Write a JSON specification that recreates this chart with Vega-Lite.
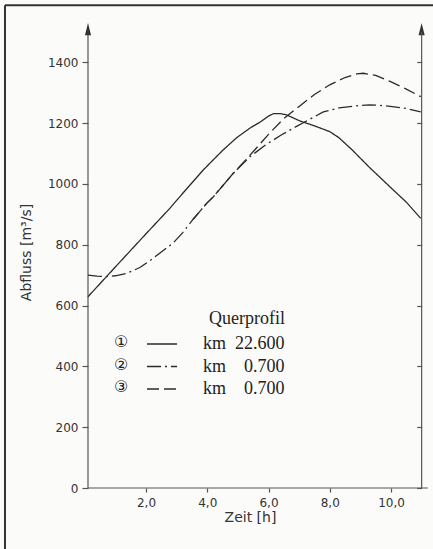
{
  "$schema": "https://vega.github.io/schema/vega-lite/v6.json",
  "width": 433,
  "height": 549,
  "autosize": {"type": "none"},
  "padding": 0,
  "background": "#fbfbfa",
  "config": {
    "view": {"stroke": null},
    "axis": {"grid": false, "labelFont": "DejaVu Sans", "titleFont": "DejaVu Sans", "labelColor": "#333", "titleColor": "#333", "tickColor": "#555", "tickWidth": 1.2, "titleFontWeight": "normal"},
    "legend": {"labelLimit": 0, "padding": 0, "offset": 0}
  },
  "resolve": {"axis": {"x": "independent", "y": "independent"}},
  "layer": [
    {
      "data": {"values": [{}]},
      "mark": {"type": "rule", "color": "#333", "strokeWidth": 2},
      "encoding": {
        "x": {"datum": -2.604, "type": "quantitative", "axis": null},
        "y": {"datum": -200.6, "type": "quantitative", "axis": null},
        "y2": {"datum": 1588}
      }
    },
    {
      "data": {"values": [{}]},
      "mark": {"type": "rule", "color": "#333", "strokeWidth": 2},
      "encoding": {
        "x": {"datum": -2.604, "type": "quantitative", "axis": null},
        "x2": {"datum": 11.371},
        "y": {"datum": 1588, "type": "quantitative", "axis": null}
      }
    },
    {
      "data": {"values": [{}]},
      "mark": {"type": "rule", "color": "#555", "strokeWidth": 1.2},
      "encoding": {
        "x": {"datum": 0.106, "type": "quantitative", "axis": null},
        "y": {"datum": 0, "type": "quantitative", "axis": null},
        "y2": {"datum": 1500}
      }
    },
    {
      "data": {"values": [{}]},
      "mark": {"type": "rule", "color": "#555", "strokeWidth": 1.2},
      "encoding": {
        "x": {"datum": 0.106, "type": "quantitative", "axis": null},
        "x2": {"datum": 11.2},
        "y": {"datum": 0, "type": "quantitative", "axis": null}
      }
    },
    {
      "data": {"values": [{}]},
      "mark": {"type": "point", "filled": true, "color": "#333", "opacity": 1, "size": 150, "shape": "M0,-1L0.5,1L-0.5,1Z"},
      "encoding": {
        "x": {"datum": 0.106, "type": "quantitative", "axis": null},
        "y": {"datum": 1509, "type": "quantitative", "axis": null}
      }
    },
    {
      "data": {"values": [{}]},
      "mark": {"type": "point", "filled": true, "color": "#333", "opacity": 1, "size": 150, "shape": "M0,-1L0.5,1L-0.5,1Z"},
      "encoding": {
        "x": {"datum": 11.0, "type": "quantitative", "axis": null},
        "y": {"datum": 1509, "type": "quantitative", "axis": null}
      }
    },
    {
      "data": {
        "values": [
          {"serie": "1", "nr": "①", "t": 0.106, "q": 629},
          {"serie": "1", "nr": "①", "t": 1.0, "q": 727},
          {"serie": "1", "nr": "①", "t": 2.0, "q": 836},
          {"serie": "1", "nr": "①", "t": 2.79, "q": 921},
          {"serie": "1", "nr": "①", "t": 3.0, "q": 946},
          {"serie": "1", "nr": "①", "t": 3.87, "q": 1046},
          {"serie": "1", "nr": "①", "t": 4.5, "q": 1110},
          {"serie": "1", "nr": "①", "t": 4.96, "q": 1152},
          {"serie": "1", "nr": "①", "t": 5.4, "q": 1184},
          {"serie": "1", "nr": "①", "t": 5.72, "q": 1203},
          {"serie": "1", "nr": "①", "t": 6.0, "q": 1223},
          {"serie": "1", "nr": "①", "t": 6.16, "q": 1231},
          {"serie": "1", "nr": "①", "t": 6.4, "q": 1231},
          {"serie": "1", "nr": "①", "t": 6.59, "q": 1227},
          {"serie": "1", "nr": "①", "t": 7.03, "q": 1207},
          {"serie": "1", "nr": "①", "t": 7.5, "q": 1191},
          {"serie": "1", "nr": "①", "t": 8.0, "q": 1172},
          {"serie": "1", "nr": "①", "t": 8.3, "q": 1152},
          {"serie": "1", "nr": "①", "t": 8.72, "q": 1113},
          {"serie": "1", "nr": "①", "t": 9.3, "q": 1054},
          {"serie": "1", "nr": "①", "t": 9.97, "q": 990},
          {"serie": "1", "nr": "①", "t": 10.5, "q": 940},
          {"serie": "1", "nr": "①", "t": 10.97, "q": 887},
          {"serie": "2", "nr": "②", "t": 0.106, "q": 700},
          {"serie": "2", "nr": "②", "t": 0.4, "q": 697},
          {"serie": "2", "nr": "②", "t": 0.66, "q": 695},
          {"serie": "2", "nr": "②", "t": 1.0, "q": 698},
          {"serie": "2", "nr": "②", "t": 1.37, "q": 706},
          {"serie": "2", "nr": "②", "t": 1.8, "q": 725},
          {"serie": "2", "nr": "②", "t": 2.13, "q": 748},
          {"serie": "2", "nr": "②", "t": 2.5, "q": 776},
          {"serie": "2", "nr": "②", "t": 2.89, "q": 806},
          {"serie": "2", "nr": "②", "t": 3.2, "q": 840},
          {"serie": "2", "nr": "②", "t": 3.54, "q": 884},
          {"serie": "2", "nr": "②", "t": 3.98, "q": 936},
          {"serie": "2", "nr": "②", "t": 4.2, "q": 958},
          {"serie": "2", "nr": "②", "t": 4.85, "q": 1035},
          {"serie": "2", "nr": "②", "t": 5.4, "q": 1090},
          {"serie": "2", "nr": "②", "t": 5.9, "q": 1128},
          {"serie": "2", "nr": "②", "t": 6.4, "q": 1160},
          {"serie": "2", "nr": "②", "t": 6.8, "q": 1183},
          {"serie": "2", "nr": "②", "t": 7.3, "q": 1210},
          {"serie": "2", "nr": "②", "t": 7.79, "q": 1237},
          {"serie": "2", "nr": "②", "t": 8.3, "q": 1250},
          {"serie": "2", "nr": "②", "t": 8.88, "q": 1257},
          {"serie": "2", "nr": "②", "t": 9.3, "q": 1260},
          {"serie": "2", "nr": "②", "t": 9.6, "q": 1259},
          {"serie": "2", "nr": "②", "t": 9.97, "q": 1255},
          {"serie": "2", "nr": "②", "t": 10.5, "q": 1248},
          {"serie": "2", "nr": "②", "t": 10.97, "q": 1237},
          {"serie": "3", "nr": "③", "t": 3.54, "q": 884},
          {"serie": "3", "nr": "③", "t": 3.98, "q": 936},
          {"serie": "3", "nr": "③", "t": 4.2, "q": 958},
          {"serie": "3", "nr": "③", "t": 4.85, "q": 1035},
          {"serie": "3", "nr": "③", "t": 5.4, "q": 1095},
          {"serie": "3", "nr": "③", "t": 6.0, "q": 1163},
          {"serie": "3", "nr": "③", "t": 6.5, "q": 1215},
          {"serie": "3", "nr": "③", "t": 7.0, "q": 1255},
          {"serie": "3", "nr": "③", "t": 7.5, "q": 1294},
          {"serie": "3", "nr": "③", "t": 8.0, "q": 1326},
          {"serie": "3", "nr": "③", "t": 8.5, "q": 1350},
          {"serie": "3", "nr": "③", "t": 8.88, "q": 1362},
          {"serie": "3", "nr": "③", "t": 9.1, "q": 1364},
          {"serie": "3", "nr": "③", "t": 9.5, "q": 1357},
          {"serie": "3", "nr": "③", "t": 9.97, "q": 1337},
          {"serie": "3", "nr": "③", "t": 10.5, "q": 1312},
          {"serie": "3", "nr": "③", "t": 10.97, "q": 1287}
        ]
      },
      "mark": {"type": "line", "strokeWidth": 1.3},
      "encoding": {
        "x": {
          "field": "t", "type": "quantitative",
          "scale": {"domain": [-2.767, 11.371], "nice": false, "zero": false},
          "axis": {"orient": "bottom", "offset": -61, "domain": false, "values": [2, 4, 6, 8, 10], "format": ".1f", "labelExpr": "replace(datum.label, '.', ',')", "tickSize": 4, "labelPadding": 5, "labelFontSize": 12, "title": "Zeit [h]", "titleFontSize": 14, "titleX": 250, "titlePadding": 2}
        },
        "y": {
          "field": "q", "type": "quantitative",
          "scale": {"domain": [-200.6, 1604.9], "nice": false, "zero": false},
          "axis": {"orient": "left", "offset": -88, "domain": false, "values": [0, 200, 400, 600, 800, 1000, 1200, 1400], "format": "d", "tickSize": 6, "labelPadding": 4, "labelFontSize": 12, "title": "Abfluss [m³/s]", "titleFontSize": 14, "titleY": 252, "titleX": -55}
        },
        "strokeDash": {
          "field": "serie", "type": "nominal",
          "scale": {"domain": ["1", "2", "3"], "range": [[1, 0], [14, 4, 2, 4], [12, 5]]},
          "legend": {"orient": "none", "legendX": 153, "legendY": 310, "title": "Querprofil", "titleAnchor": "end", "titleFont": "Liberation Serif", "titleFontSize": 18, "titleFontWeight": "normal", "titleColor": "#222", "titlePadding": 7, "labelFont": "Liberation Serif", "labelFontSize": 18, "labelColor": "#222", "labelOffset": 32, "symbolType": "M-15,0H15", "symbolSize": 4, "symbolStrokeColor": "#2b2b2b", "symbolFillColor": "transparent", "symbolStrokeWidth": 1.3, "rowPadding": 4.5, "labelExpr": "datum.label == '1' ? 'km\u00a0\u00a022.600' : 'km\u00a0\u00a0\u00a0\u00a00.700'"}
        },
        "color": {
          "field": "nr", "type": "nominal",
          "scale": {"domain": ["①", "②", "③"], "range": ["#2b2b2b", "#2b2b2b", "#2b2b2b"]},
          "legend": {"orient": "none", "legendX": 97, "legendY": 334, "title": null, "labelFont": "DejaVu Sans", "labelFontSize": 16, "labelColor": "#222", "labelOffset": 1, "symbolOpacity": 0, "symbolSize": 1, "rowPadding": 6.5}
        }
      }
    },
    {
      "data": {"values": [{}]},
      "mark": {"type": "rule", "color": "#555", "strokeWidth": 1.2},
      "encoding": {
        "x": {"datum": 11.0, "type": "quantitative", "axis": null},
        "y": {"datum": 0, "type": "quantitative", "axis": {"orient": "right", "offset": -11.3, "domain": false, "labels": false, "values": [0, 200, 400, 600, 800, 1000, 1200, 1400], "tickSize": -5, "title": null}},
        "y2": {"datum": 1500}
      }
    }
  ]
}
